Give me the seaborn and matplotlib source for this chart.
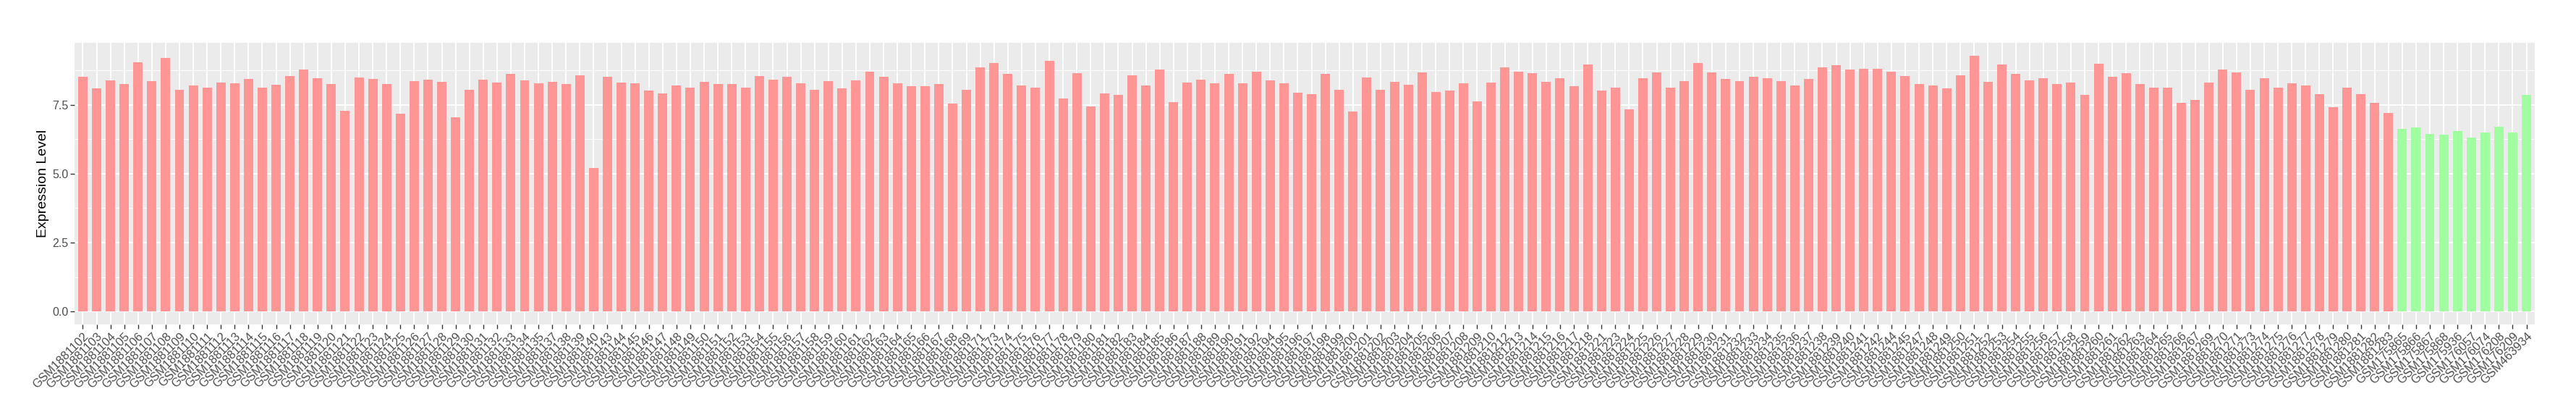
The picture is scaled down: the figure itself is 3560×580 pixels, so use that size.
import matplotlib
matplotlib.use("Agg")
import matplotlib.pyplot as plt
import seaborn as sns
import pandas as pd
from matplotlib.ticker import FixedLocator, FixedFormatter

# ---------------- data ----------------
tumor_samples = [
    "GSM1881102", "GSM1881103", "GSM1881104", "GSM1881105", "GSM1881106", "GSM1881107",
    "GSM1881108", "GSM1881109", "GSM1881110", "GSM1881111", "GSM1881112", "GSM1881113",
    "GSM1881114", "GSM1881115", "GSM1881116", "GSM1881117", "GSM1881118", "GSM1881119",
    "GSM1881120", "GSM1881121", "GSM1881122", "GSM1881123", "GSM1881124", "GSM1881125",
    "GSM1881126", "GSM1881127", "GSM1881128", "GSM1881129", "GSM1881130", "GSM1881131",
    "GSM1881132", "GSM1881133", "GSM1881134", "GSM1881135",
    "GSM1881137", "GSM1881138", "GSM1881139", "GSM1881140",
    "GSM1881143", "GSM1881144", "GSM1881145", "GSM1881146", "GSM1881147", "GSM1881148",
    "GSM1881149", "GSM1881150", "GSM1881151", "GSM1881152", "GSM1881153", "GSM1881154",
    "GSM1881155", "GSM1881156", "GSM1881157", "GSM1881158", "GSM1881159", "GSM1881160",
    "GSM1881161", "GSM1881162", "GSM1881163", "GSM1881164", "GSM1881165", "GSM1881166",
    "GSM1881167", "GSM1881168", "GSM1881169",
    "GSM1881171",
    "GSM1881173", "GSM1881174", "GSM1881175", "GSM1881176", "GSM1881177", "GSM1881178",
    "GSM1881179", "GSM1881180", "GSM1881181", "GSM1881182", "GSM1881183", "GSM1881184",
    "GSM1881185", "GSM1881186", "GSM1881187", "GSM1881188", "GSM1881189", "GSM1881190",
    "GSM1881191", "GSM1881192",
    "GSM1881194", "GSM1881195", "GSM1881196", "GSM1881197", "GSM1881198", "GSM1881199",
    "GSM1881200", "GSM1881201", "GSM1881202", "GSM1881203", "GSM1881204", "GSM1881205",
    "GSM1881206", "GSM1881207", "GSM1881208", "GSM1881209", "GSM1881210",
    "GSM1881212", "GSM1881213", "GSM1881214", "GSM1881215", "GSM1881216", "GSM1881217",
    "GSM1881218",
    "GSM1881221",
    "GSM1881223", "GSM1881224", "GSM1881225", "GSM1881226", "GSM1881227", "GSM1881228",
    "GSM1881229", "GSM1881230", "GSM1881231", "GSM1881232", "GSM1881233", "GSM1881234",
    "GSM1881235", "GSM1881236", "GSM1881237", "GSM1881238", "GSM1881239", "GSM1881240",
    "GSM1881241", "GSM1881242",
    "GSM1881244", "GSM1881245",
    "GSM1881247", "GSM1881248", "GSM1881249", "GSM1881250", "GSM1881251", "GSM1881252",
    "GSM1881253", "GSM1881254", "GSM1881255", "GSM1881256", "GSM1881257", "GSM1881258",
    "GSM1881259", "GSM1881260", "GSM1881261", "GSM1881262", "GSM1881263", "GSM1881264",
    "GSM1881265", "GSM1881266", "GSM1881267",
    "GSM1881269", "GSM1881270", "GSM1881271",
    "GSM1881273", "GSM1881274", "GSM1881275", "GSM1881276", "GSM1881277", "GSM1881278",
    "GSM1881279", "GSM1881280", "GSM1881281", "GSM1881282", "GSM1881283",
]
tumor_values = [
    8.51, 8.08, 8.38, 8.24, 9.03, 8.35, 9.19, 8.03, 8.19, 8.11, 8.30, 8.27,
    8.43, 8.11, 8.22, 8.54, 8.78, 8.46, 8.24, 7.27, 8.49, 8.43, 8.24, 7.16,
    8.35, 8.40, 8.32, 7.05, 8.03, 8.40, 8.30, 8.62, 8.38, 8.27,
    8.32, 8.24, 8.57, 5.20,
    8.51, 8.30, 8.27, 8.00, 7.92, 8.19, 8.13, 8.32, 8.24, 8.24, 8.13, 8.54,
    8.40, 8.51, 8.27, 8.05, 8.35, 8.08, 8.38, 8.70, 8.51, 8.27, 8.16, 8.16,
    8.24, 7.54, 8.03,
    8.86,
    9.00, 8.62, 8.19, 8.11, 9.08, 7.73, 8.65, 7.43, 7.92, 7.86, 8.57, 8.19,
    8.78, 7.59, 8.30, 8.40, 8.27, 8.62, 8.27, 8.70,
    8.38, 8.27, 7.94, 7.89, 8.62, 8.05, 7.24, 8.49, 8.03, 8.32, 8.22, 8.67,
    7.97, 8.00, 8.27, 7.62, 8.30,
    8.86, 8.70, 8.65, 8.32, 8.46, 8.16, 8.95,
    8.00,
    8.11, 7.32, 8.46, 8.67, 8.11, 8.35, 9.00, 8.67, 8.43, 8.35, 8.51, 8.46,
    8.35, 8.19, 8.43, 8.84, 8.92, 8.78, 8.81, 8.81,
    8.70, 8.54,
    8.24, 8.19, 8.08, 8.57, 9.28, 8.32, 8.95, 8.62, 8.38, 8.46, 8.24, 8.30,
    7.86, 8.97, 8.51, 8.65, 8.24, 8.13, 8.11, 7.57, 7.67,
    8.30, 8.78, 8.67,
    8.03, 8.46, 8.11, 8.27, 8.19, 7.89, 7.40, 8.13, 7.89, 7.57, 7.19,
]
normal_samples = [
    "GSM175865", "GSM175866", "GSM175867", "GSM175868", "GSM175936",
    "GSM176057", "GSM176074", "GSM176208", "GSM176209", "GSM463934",
]
normal_values = [6.62, 6.67, 6.43, 6.40, 6.54, 6.30, 6.48, 6.70, 6.48, 7.86]

group_names = ["Tumor", "Normal"]
group_colors = ["#FE9696", "#A0FEA0"]

# ---------------- build table ----------------
df = pd.DataFrame({
    "sample": tumor_samples + normal_samples,
    "value": tumor_values + normal_values,
    "group": [group_names[0]] * len(tumor_samples) + [group_names[1]] * len(normal_samples),
})
order = list(df["sample"])

# ---------------- style ----------------
sns.set_theme(style="darkgrid")
plt.rcParams["font.family"] = ["Liberation Sans", "DejaVu Sans"]
plt.rcParams["axes.facecolor"] = "#EBEBEB"

W, H, DPI = 3560, 580, 100
fig = plt.figure(figsize=(W / DPI, H / DPI), dpi=DPI)
ax = fig.add_axes([103 / W, 1 - 448 / H, (3503 - 103) / W, (448 - 59) / H])
ax.set_facecolor("#EBEBEB")

sns.barplot(
    data=df, x="sample", y="value", hue="group", order=order,
    hue_order=group_names, palette=dict(zip(group_names, group_colors)),
    dodge=False, width=0.68, saturation=1, legend=False, ax=ax,
    edgecolor="none", linewidth=0,
)

n = len(order)
ax.set_xlim(-0.6, n - 1 + 0.6)
vmax = max(df["value"])
ax.set_ylim(-0.05 * vmax, 1.05 * vmax)

# grid like ggplot theme_gray
ax.yaxis.set_major_locator(FixedLocator([0, 2.5, 5.0, 7.5]))
ax.yaxis.set_major_formatter(FixedFormatter(["0.0", "2.5", "5.0", "7.5"]))
ax.yaxis.set_minor_locator(FixedLocator([1.25, 3.75, 6.25, 8.75]))
ax.grid(which="major", axis="both", color="white", linewidth=1.4)
ax.grid(which="minor", axis="y", color="white", linewidth=0.7)
ax.set_axisbelow(True)
for s in ax.spines.values():
    s.set_visible(False)

ax.tick_params(axis="both", which="major", length=4, width=1.0, color="#333333",
               labelsize=11.5, labelcolor="#4D4D4D", pad=2,
               bottom=True, left=True)
ax.tick_params(axis="y", which="minor", length=0, left=False)
ax.set_xticks(range(n))
ax.set_xticklabels(order, rotation=45, ha="right", va="top",
                   rotation_mode="anchor", fontsize=12, color="#4D4D4D")

ax.set_xlabel("")
ax.set_ylabel("Expression Level", fontsize=14, color="black", labelpad=3)

fig.savefig("out.png", dpi=DPI, facecolor="white")
